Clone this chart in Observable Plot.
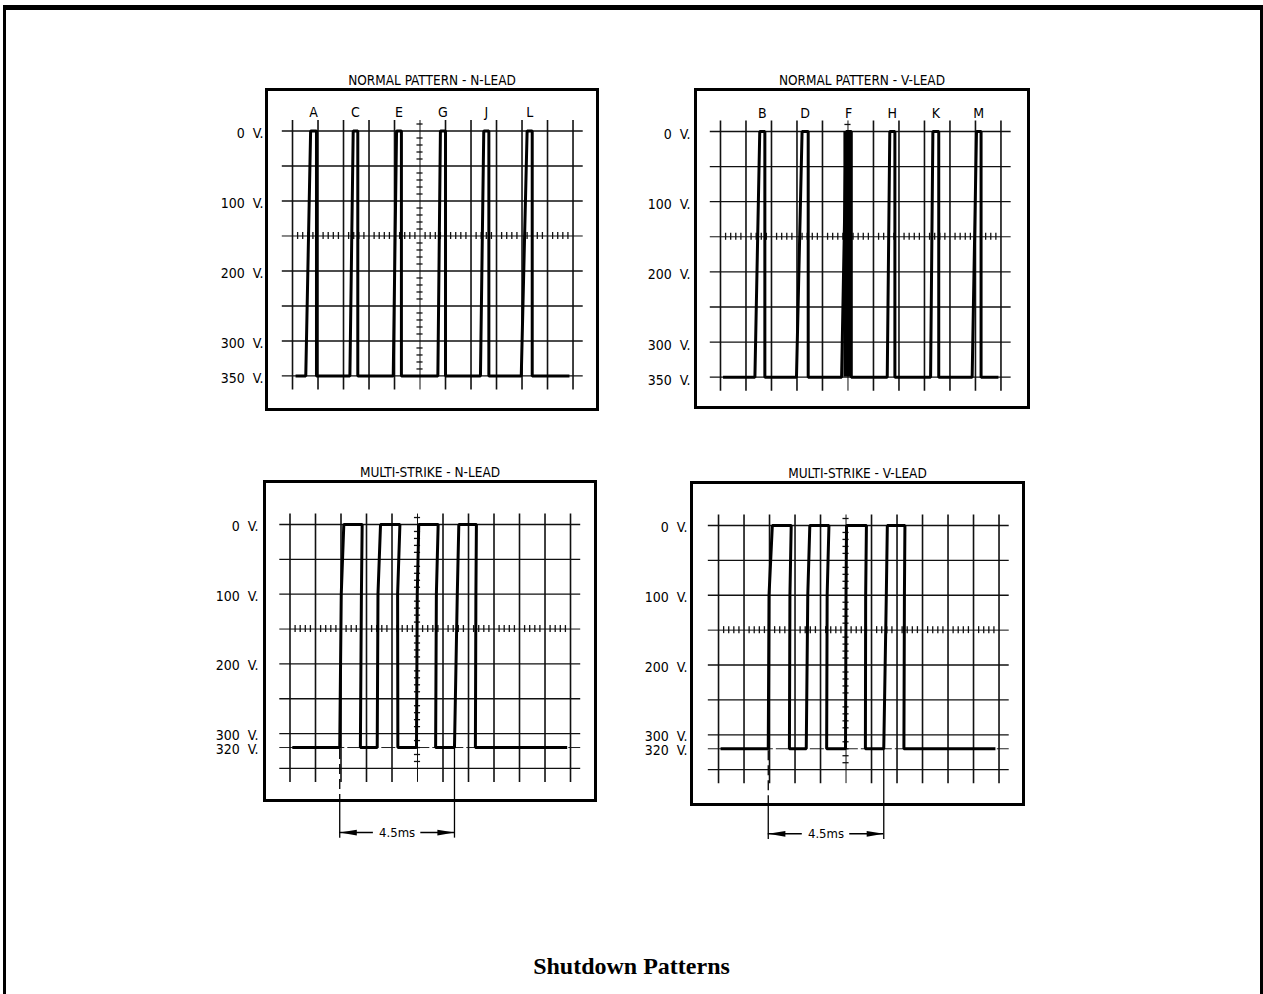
<!DOCTYPE html>
<html><head><meta charset="utf-8">
<script src="https://cdn.jsdelivr.net/npm/d3@7"></script>
<script src="https://cdn.jsdelivr.net/npm/@observablehq/plot@0.6"></script>
<style>
html,body{margin:0;padding:0;background:#fff;}
#page{position:relative;width:1263px;height:994px;overflow:hidden;background:#fff;}
#border{position:absolute;left:3px;top:5px;width:1254px;height:1010px;border-top:5px solid #000;border-left:3px solid #000;border-right:3px solid #000;}
.panel{position:absolute;}
#title{position:absolute;left:0;width:1263px;top:953px;line-height:24px;text-align:center;font:bold 24px "Liberation Serif","Times New Roman",serif;color:#000;}
</style></head><body>
<div id="page"><div id="border"></div><div id="title">Shutdown Patterns</div></div>
<script>
// ---------------- DATA (time in ms = graticule divisions, voltage in V) ----------------
const tlTitle = "NORMAL PATTERN - N-LEAD";
const tlLabels    = ["A", "C", "E", "G", "J", "L"];
const tlRiseStart = [0.52, 2.25, 3.95, 5.70, 7.37, 8.97];
const tlRiseEnd   = [0.71, 2.38, 4.08, 5.80, 7.50, 9.20];
const tlFall      = [0.94, 2.56, 4.27, 6.00, 7.70, 9.40];
const tlTraceSpan = [0.12, 10.86];

const trTitle = "NORMAL PATTERN - V-LEAD";
const trLabels    = ["B", "D", "F", "H", "K", "M"];
const trRiseStart = [1.35, 2.98, 4.75, 6.54, 8.24, 9.87];
const trRiseEnd   = [1.54, 3.20, 4.93, 6.64, 8.33, 10.04];
const trFall      = [1.74, 3.44, 5.13, 6.84, 8.56, 10.22];
const trFilled    = ["F"];
const trTraceSpan = [0.10, 10.90];

const normalBase  = 350;
const normalTicks = [0, 100, 200, 300, 350];

const blTitle = "MULTI-STRIKE - N-LEAD";
const blRiseStart = [1.95, 3.42, 4.96, 6.45];
const blRiseKink  = [2.01, 3.45, 4.99, 6.56];
const blRiseEnd   = [2.11, 3.55, 5.05, 6.62];
const blFallStart = [2.83, 4.31, 5.81, 7.31];
const blFallKink  = [2.80, 4.22, 5.74, 7.29];
const blFallEnd   = [2.76, 4.23, 5.71, 7.27];
const blTraceSpan = [0.09, 10.87];

const brTitle = "MULTI-STRIKE - V-LEAD";
const brRiseStart = [1.95, 3.44, 4.98, 6.48];
const brRiseKink  = [1.98, 3.50, 5.00, 6.58];
const brRiseEnd   = [2.11, 3.58, 5.02, 6.62];
const brFallStart = [2.85, 4.33, 5.80, 7.31];
const brFallKink  = [2.80, 4.26, 5.77, 7.29];
const brFallEnd   = [2.78, 4.24, 5.76, 7.27];
const brTraceSpan = [0.08, 10.86];

const multiBase  = 320;
const multiKink  = 100;
const multiTicks = [0, 100, 200, 300, 320];
const spanLabel  = "4.5ms";
const spanLevel  = 442;   // V (below the screen) where the dimension arrow sits

// graticule
const gridMs     = [0, 1, 2, 3, 4, 5, 6, 7, 8, 9, 10, 11];
const gridVolts  = [0, 50, 100, 150, 200, 250, 300, 350];
const centerMs   = 5;
const centerVolts = 150;

// ---------------- helpers ----------------
const FONT = '"DejaVu Sans Condensed","Liberation Sans Narrow","DejaVu Sans",sans-serif';
const minorMs = d3.range(1, 55).map(i => i / 5).filter(t => Math.abs(t - Math.round(t)) > 1e-6);
const minorVolts = d3.range(-10, 350, 10).filter(v => v % 50 !== 0);

function normalTrace(span, r0, r1, f, base) {
  const pts = [{t: span[0], v: base}];
  r0.forEach((r, i) => {
    pts.push({t: r, v: base}, {t: r1[i], v: 0}, {t: f[i], v: 0}, {t: f[i], v: base});
  });
  pts.push({t: span[1], v: base});
  return pts;
}
function multiTrace(span, r0, rk, r1, f1, fk, f0, base, kink) {
  const pts = [{t: span[0], v: base}];
  r0.forEach((r, i) => {
    pts.push({t: r, v: base}, {t: rk[i], v: kink}, {t: r1[i], v: 0},
             {t: f1[i], v: 0}, {t: fk[i], v: kink}, {t: f0[i], v: base});
  });
  pts.push({t: span[1], v: base});
  return pts;
}
const arrowHead = {
  draw(ctx, size) {
    const r = Math.sqrt(size / Math.PI);
    const l = 1.8 * r, h = 0.3 * r;
    ctx.moveTo(0, 0); ctx.lineTo(-l, -h); ctx.lineTo(-l, h); ctx.closePath();
  }
};

function panel(cfg) {
  const marks = [];
  const xr = [-0.4, 11.4], vr = [-15, 370];
  // graticule
  marks.push(Plot.ruleY(gridVolts.filter(v => v !== centerVolts), {x1: xr[0], x2: xr[1], stroke: "#111", strokeWidth: 1.3}));
  if (cfg.extraLine != null) marks.push(Plot.ruleY([cfg.extraLine], {x1: xr[0], x2: xr[1], stroke: "#222", strokeWidth: 1, strokeDasharray: "14,3"}));
  marks.push(Plot.ruleX(gridMs.filter(t => t !== centerMs), {y1: vr[0], y2: vr[1], stroke: "#111", strokeWidth: 1.6}));
  marks.push(Plot.ruleY([centerVolts], {x1: xr[0], x2: xr[1], stroke: "#111", strokeWidth: 1}));
  marks.push(Plot.ruleX([centerMs], {y1: vr[0], y2: vr[1], stroke: "#111", strokeWidth: 1}));
  marks.push(Plot.ruleX(minorMs, {y1: centerVolts - 5, y2: centerVolts + 5, stroke: "#111", strokeWidth: 1.3}));
  marks.push(Plot.ruleY(minorVolts, {x1: centerMs - 0.12, x2: centerMs + 0.12, stroke: "#111", strokeWidth: 1.3}));
  // filled pulses
  if (cfg.filled) marks.push(Plot.rectY(cfg.filled, {x1: "x1", x2: "x2", y1: 0, y2: cfg.base, fill: "#000"}));
  // trace
  marks.push(Plot.line(cfg.trace, {x: "t", y: "v", stroke: "#000", strokeWidth: 3, strokeLinejoin: "miter", strokeLinecap: "butt"}));
  // pulse letters
  if (cfg.letters) marks.push(Plot.text(cfg.letters, {x: "x", y: -26, text: "label", fontSize: 14, fill: "#000"}));
  // dimension annotation
  if (cfg.dim) {
    const [a, b] = cfg.dim, mid = (a + b) / 2, gap = 0.93, boxV = cfg.yDomain[1];
    marks.push(Plot.ruleX([a], {y1: cfg.base + 3, y2: boxV, stroke: "#000", strokeWidth: 1.3, strokeDasharray: "10,5"}));
    marks.push(Plot.ruleX([a], {y1: boxV, y2: spanLevel + 8, stroke: "#000", strokeWidth: 1.3}));
    marks.push(Plot.ruleX([b], {y1: cfg.base, y2: spanLevel + 8, stroke: "#000", strokeWidth: 1.3}));
    marks.push(Plot.ruleY([spanLevel], {x1: a, x2: mid - gap, stroke: "#000", strokeWidth: 1.5}));
    marks.push(Plot.ruleY([spanLevel], {x1: mid + gap, x2: b, stroke: "#000", strokeWidth: 1.5}));
    marks.push(Plot.dot([{x: a, r: 180}, {x: b, r: 0}], {x: "x", y: spanLevel, rotate: "r", symbol: arrowHead, r: 9.5, fill: "#000", stroke: "none"}));
    marks.push(Plot.text([spanLabel], {x: mid, y: spanLevel, text: d => d, fontSize: 13, fill: "#000"}));
  }
  // frame, axis, title
  marks.push(Plot.frame({stroke: "#000", strokeWidth: 3}));
  marks.push(Plot.axisY(cfg.ticks, {tickSize: 0, tickPadding: cfg.pad, dy: cfg.dy, tickFormat: d => `${d}\u00a0\u00a0V.`, fontSize: 14, label: null, fill: "#000"}));
  marks.push(Plot.text([cfg.title], {frameAnchor: "top", dy: -14, text: d => d, fontSize: 13.5, fill: "#000"}));

  const svg = Plot.plot({
    width: cfg.width, height: cfg.height,
    marginLeft: cfg.m[0], marginTop: cfg.m[1], marginRight: cfg.m[2], marginBottom: cfg.m[3],
    x: {domain: cfg.xDomain, axis: null},
    y: {domain: cfg.yDomain, reverse: true, axis: null},
    style: {fontFamily: FONT, fontSize: "13px", background: "transparent", overflow: "visible", color: "#000"},
    marks
  });
  svg.classList.add("panel");
  svg.style.position = "absolute";
  svg.style.left = cfg.left + "px";
  svg.style.top = cfg.top + "px";
  document.getElementById("page").appendChild(svg);
}

panel({
  title: tlTitle, left: 195, top: 55, width: 415, height: 370, m: [71, 34, 13, 16],
  xDomain: [-1.02, 11.96], yDomain: [-59.3, 397.9], pad: 3, dy: 3,
  base: normalBase, ticks: normalTicks,
  trace: normalTrace(tlTraceSpan, tlRiseStart, tlRiseEnd, tlFall, normalBase),
  letters: tlLabels.map((l, i) => ({label: l, x: (tlRiseEnd[i] + tlFall[i]) / 2}))
});
panel({
  title: trTitle, left: 620, top: 55, width: 420, height: 370, m: [75, 34, 12, 18],
  xDomain: [-0.98, 12.08], yDomain: [-59.8, 393.2], pad: 5, dy: 3,
  base: normalBase, ticks: normalTicks,
  trace: normalTrace(trTraceSpan, trRiseStart, trRiseEnd, trFall, normalBase),
  letters: trLabels.map((l, i) => ({label: l, x: (trRiseEnd[i] + trFall[i]) / 2})),
  filled: trLabels.map((l, i) => ({l, x1: (trRiseStart[i] + trRiseEnd[i]) / 2, x2: trFall[i]})).filter(d => trFilled.includes(d.l))
});
panel({
  title: blTitle, left: 195, top: 445, width: 415, height: 415, m: [69, 36, 15, 60],
  xDomain: [-1.0, 11.98], yDomain: [-61.7, 396.0], pad: 6, dy: 2,
  base: multiBase, ticks: multiTicks, extraLine: multiBase,
  trace: multiTrace(blTraceSpan, blRiseStart, blRiseKink, blRiseEnd, blFallStart, blFallKink, blFallEnd, multiBase, multiKink),
  dim: [blRiseStart[0], blRiseStart[blRiseStart.length - 1]]
});
panel({
  title: brTitle, left: 620, top: 445, width: 420, height: 415, m: [71, 37, 17, 56],
  xDomain: [-1.06, 11.96], yDomain: [-61.6, 399.9], pad: 4, dy: 2,
  base: multiBase, ticks: multiTicks, extraLine: multiBase,
  trace: multiTrace(brTraceSpan, brRiseStart, brRiseKink, brRiseEnd, brFallStart, brFallKink, brFallEnd, multiBase, multiKink),
  dim: [brRiseStart[0], brRiseStart[brRiseStart.length - 1]]
});
</script>
</body></html>
